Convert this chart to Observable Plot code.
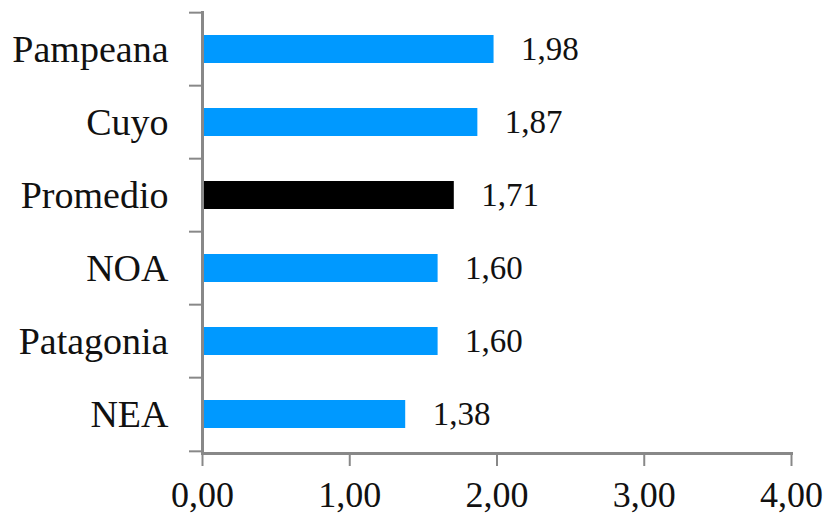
<!DOCTYPE html>
<html>
<head>
<meta charset="utf-8">
<script src="https://cdn.jsdelivr.net/npm/d3@7"></script>
<script src="https://cdn.jsdelivr.net/npm/@observablehq/plot@0.6"></script>
<style>
  html, body { margin: 0; padding: 0; background: #fff; }
  svg { display: block; }
</style>
</head>
<body>
<div id="chart"></div>
<script>
const regions = ["Pampeana", "Cuyo", "Promedio", "NOA", "Patagonia", "NEA"];
const values = [1.98, 1.87, 1.71, 1.60, 1.60, 1.38];
const highlight = ["Promedio"];
const xTicks = [0, 1, 2, 3, 4];

const data = regions.map((r, i) => ({region: r, value: values[i]}));
const fmt = v => v.toFixed(2).replace(".", ",");

const W = 823, H = 516;
const mTop = 11, mBottom = 63, mLeft = 202, mRight = 32;
const step = (H - mTop - mBottom) / regions.length;
const tickLen = 13 / ((W - mLeft - mRight) / 4);

const chart = Plot.plot({
  width: W,
  height: H,
  marginTop: mTop,
  marginBottom: mBottom,
  marginLeft: mLeft,
  marginRight: mRight,
  style: {fontFamily: "'Liberation Serif', 'Times New Roman', serif", color: "#111", background: "#fff"},
  x: {domain: [0, 4], ticks: xTicks, label: null},
  y: {domain: regions, paddingInner: 0.62, paddingOuter: 0.31, align: 0.48, label: null},
  marks: [
    Plot.barX(data, {
      y: "region", x: "value",
      fill: d => highlight.includes(d.region) ? "#000000" : "#0099FF"
    }),
    Plot.text(data, {
      y: "region", x: "value", text: d => fmt(d.value),
      textAnchor: "start", dx: 27, fontSize: 33, fill: "#111"
    }),
    // y band boundary ticks
    Plot.ruleY(regions, {y: d => d, x1: -tickLen, x2: 0, dy: -step / 2, stroke: "#888", strokeWidth: 2}),
    Plot.ruleY(regions.slice(-1), {y: d => d, x1: -tickLen, x2: 0, dy: step / 2, stroke: "#888", strokeWidth: 2}),
    Plot.ruleX([0], {stroke: "#888", strokeWidth: 3}),
    Plot.frame({anchor: "bottom", stroke: "#888", strokeWidth: 3}),
    Plot.axisX({
      ticks: xTicks, tickFormat: fmt, tickSize: 13, tickPadding: 15,
      fontSize: 36, stroke: "#888", strokeWidth: 2, label: null
    }),
    Plot.axisY({tickSize: 0, tickPadding: 34, fontSize: 38, label: null})
  ]
});
document.getElementById("chart").appendChild(chart);
</script>
</body>
</html>
